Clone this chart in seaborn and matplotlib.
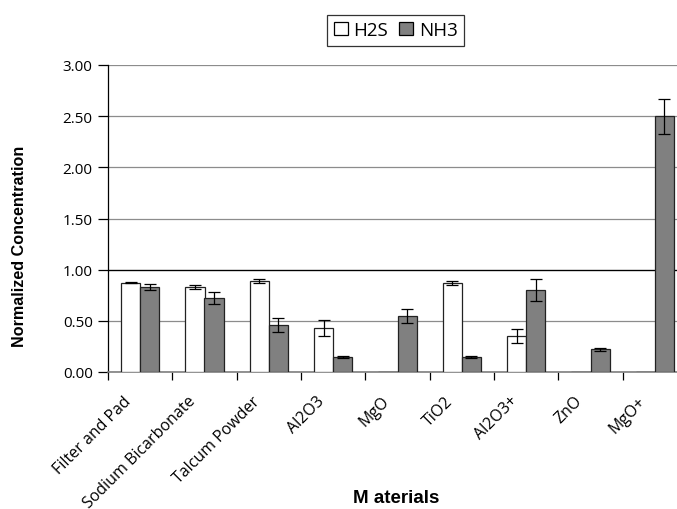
import numpy as np
import pandas as pd
import matplotlib
matplotlib.use("Agg")
import matplotlib.pyplot as plt
import matplotlib.transforms as mtransforms
import seaborn as sns
from matplotlib.patches import Patch
from matplotlib.ticker import FixedLocator

# --- Data ---
materials = ["Filter and Pad", "Sodium Bicarbonate", "Talcum Powder", "Al2O3",
             "MgO", "TiO2", "Al2O3+", "ZnO", "MgO+"]
h2s = [0.87, 0.83, 0.89, 0.43, 0.00, 0.87, 0.35, 0.00, 0.00]
h2s_err = [0.005, 0.02, 0.02, 0.08, 0.0, 0.015, 0.07, 0.0, 0.0]
nh3 = [0.83, 0.72, 0.46, 0.15, 0.55, 0.15, 0.80, 0.22, 2.50]
nh3_err = [0.03, 0.06, 0.07, 0.01, 0.07, 0.01, 0.11, 0.01, 0.17]
gases = ["H2S", "NH3"]
colors = {"H2S": "white", "NH3": "#808080"}

df = pd.DataFrame({
    "material": materials * 2,
    "gas": ["H2S"] * len(materials) + ["NH3"] * len(materials),
    "value": h2s + nh3,
})
errors = {"H2S": h2s_err, "NH3": nh3_err}

sns.set_style("white")
plt.rcParams["font.family"] = ["Open Sans", "DejaVu Sans"]
plt.rcParams["text.color"] = "black"
plt.rcParams["xtick.color"] = "black"
plt.rcParams["ytick.color"] = "black"
plt.rcParams["axes.labelcolor"] = "black"

fig = plt.figure(figsize=(6.77, 5.10), dpi=100)
ax = fig.add_axes([108 / 677, 137 / 510, 579 / 677, 307 / 510])

sns.barplot(data=df, x="material", y="value", hue="gas", hue_order=gases,
            palette=colors, order=materials, errorbar=None, width=0.6,
            edgecolor="#222222", linewidth=0.9, legend=False, ax=ax, zorder=3)

# --- error bars on each bar ---
for gas, cont in zip(gases, ax.containers):
    xs = [b.get_x() + b.get_width() / 2 for b in cont]
    ys = [b.get_height() for b in cont]
    err = errors[gas]
    keep = [i for i, v in enumerate(ys) if v > 0]
    ax.errorbar([xs[i] for i in keep], [ys[i] for i in keep],
                yerr=[err[i] for i in keep], fmt="none", ecolor="black",
                elinewidth=0.9, capsize=4, capthick=0.9, zorder=4)

# --- axes styling ---
ax.set_ylim(0, 3.0)
ax.set_xlim(-0.5, len(materials) - 0.5)
ax.set_yticks(np.arange(0, 3.01, 0.5))
ax.yaxis.set_major_formatter(matplotlib.ticker.FormatStrFormatter("%.2f"))
ax.grid(axis="y", color="#8c8c8c", linewidth=0.9, zorder=0)
ax.axhline(1.0, color="black", linewidth=0.9, zorder=1)
ax.set_axisbelow(True)

for s in ["top", "right"]:
    ax.spines[s].set_visible(False)
ax.spines["left"].set_color("black")
ax.spines["left"].set_linewidth(0.9)
ax.spines["bottom"].set_color("#7f7f7f")
ax.spines["bottom"].set_linewidth(1.2)

ax.tick_params(axis="y", which="major", direction="out", length=7, width=0.9,
               labelsize=11, left=True, pad=4)
ax.tick_params(axis="x", which="major", length=0, labelsize=11.5, pad=19)
ax.xaxis.set_minor_locator(FixedLocator(np.arange(-0.5, len(materials), 1.0)))
ax.tick_params(axis="x", which="minor", direction="out", length=6, width=0.9,
               bottom=True)
shift = mtransforms.ScaledTranslation(-11 / 100, 0, fig.dpi_scale_trans)
for lab in ax.get_xticklabels():
    lab.set_rotation(45)
    lab.set_ha("right")
    lab.set_va("center")
    lab.set_rotation_mode("anchor")
    lab.set_transform(lab.get_transform() + shift)

bold = ["Liberation Sans", "DejaVu Sans"]
ax.set_ylabel("Normalized Concentration", fontsize=11.6, fontweight="bold",
              family=bold)
ax.yaxis.set_label_coords((27 - 108) / 579, (373 - 246) / 307)
ax.set_xlabel("M aterials", fontsize=13.5, fontweight="bold", family=bold)
ax.xaxis.set_label_coords((396 - 108) / 579, (373 - 490) / 307)

handles = [Patch(facecolor=colors[g], edgecolor="black", linewidth=0.9, label=g)
           for g in gases]
ax.legend(handles=handles, loc="upper center", bbox_to_anchor=(0.497, 1.195),
          ncol=2, frameon=True, fancybox=False, edgecolor="black",
          fontsize=13.5, handlelength=0.75, handleheight=0.75, handletextpad=0.3,
          columnspacing=0.6, borderpad=0.35)
ax.get_legend().get_frame().set_linewidth(0.9)

fig.savefig("out.png", dpi=100)
